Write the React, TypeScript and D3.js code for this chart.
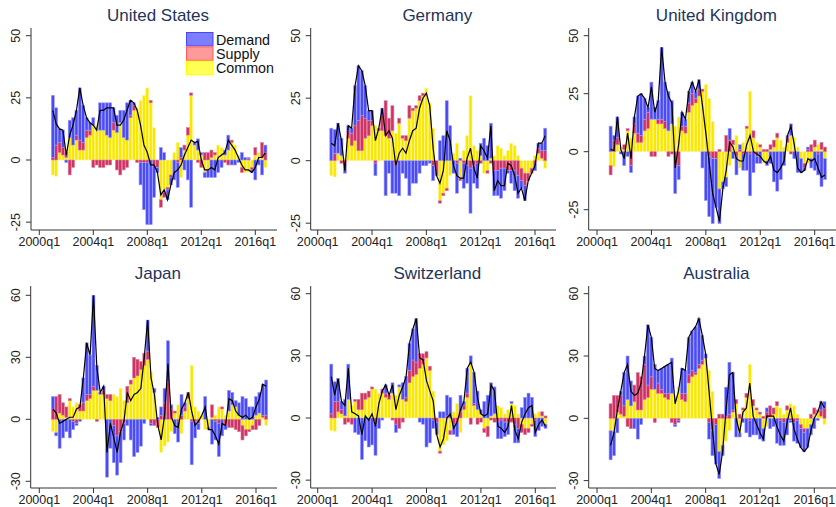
import React from "react";
import * as d3 from "d3";

// quarters are counted from 2000q1 = 0; bars run 2001q1 .. 2016q4
const firstQuarter = 4;
const tickQuarters = [0, 16, 32, 48, 64];
const tickLabels = ["2000q1", "2004q1", "2008q1", "2012q1", "2016q1"];
const topTicks = [-25, 0, 25, 50];
const bottomTicks = [-30, 0, 30, 60];
const legendLabels = ["Demand", "Supply", "Common"];

const common = [
  -6, -6.5, 3, 2, 1, 9, 6, 8, 4, 4, 9, 10, 14, 14, 12, 12,
  10, 9, 12, 11, 15, 9, 8, 17, 20, 21, 24, 26, 29, 23, 13, 0,
  -16, -13, -11, -6, 3, 7, -7, 4, 10, 26, 6, 4, 2, -5, -4, 1,
  2, 6, 5, 2, 4, 7, 6, 2, -3, -5, -5, -3, 2, 3, 1, -3,
];

const usDemand = [
  25, 15, 5.5, 7, -1, 7, 11, 10, 21, 15, 5, 3, 3, 0, 11, 11,
  13, 14, 6, 7, 5, 11, 15, 6, 1, 0, -9, -19, -25, -26, -13, -2,
  5, 3, -4, -3, -8, -10, 4, -4, -8, -19, 1, 4.5, 1, -2, -3, -7,
  -7, -5, -3, 2, 6, -2, -2, -1, 3, 1, 0.5, -1, -8, -2, -6, 3,
];
const usSupply = [
  1, 6, 4, 3, 2, -6, -3, 2, 4, 3, 3, 2, -3, -2, -3, -3,
  -2, -2, 3, -4, -6, -4, -3, 1, 2, -1, -1, -1, -1, 1, -2, -3,
  -3, -2, -1, -1, 0, -1, 1, 2, 3, 1, 0, -1, -3, 3, 3, 3,
  1, 0, 0, -1, -2, 1, 0, 0, -2, 0, 0.5, -1, 3, 0, 6, 3,
];

const deDemand = [
  13, 9.5, 12, 7, -3, 2, 2, 16, 22, 18, 13, 4, 4, -5, 0, 3,
  -14, -5, -13, -11, -14, -5, -7, -14, -9, -9, -5, -2, -2, -1, -6, 0,
  8, 10, 24, 14, -5, -12, 1, -10, -7, -18, -7, -10, 5, 9, 6, 14,
  -10, -10, -12, -9, -1, -5, -8, -9, -3, -6, 0, 0, -3, 2, 3, 9,
];
const deSupply = [
  0, 3, 0, -1, -2, 3, 5, 6, 12, 14, 8, 6, 2, -1, 1, 6,
  14, 8, 10, -2, 2, 1, 2, 5, 1, 1, 2, 1, 0, 0, -2, -6,
  -1, -1, -1, 0, 0, -1, -1, -1, -2, -3, -2, -1, -1, 0, -1, -1,
  -4, -4, -3, -3, -4, -4, -4, -6, -5, -5, -3, -2, -1, 2, 3, 4,
];

const ukDemand = [
  11, 2, 9, -1, -6, -2, -3, 3, 16, 18, 9, 2, 16, 5, 8, 31,
  17, 17, 10, -12, -6, 6, 3, 5, 5, 3, 4, -7, -21, -26, -28, -21,
  -15, -3, -4, 5, -3, -8, 2, -7, -8, -18, -9, -3, -5, 0, -2, -5,
  -13, -17, -12, -6, 1, 5, -3, -9, -6, -1, 1, -4, -8, -9, -15, -9,
];
const ukSupply = [
  -4, 5, 3, 0, 2, 1, -6, 4, 4, 3, 5, 7, -2, -2, 2, 2,
  3, -2, -1, -6, -6, 2, 3, 4, 5, 2, 3, 1, 0, -2, -3, -3,
  1, 0, 7, 5, 2, -2, 1, -1, 1, -1, 3, -2, 1, 1, 1, 2,
  3, 2, 0, 0, 2, -1, 0, 0, 0, -2, 1, 3, 3, -1, 3, 2,
];

const jpDemand = [
  6, -1.5, -14, -9, -6, -9, -4, -1, -1, 12, 25, 19, 44, 12, 1, 2,
  -28, -14, -18, -19, -15, -8, -3, -10, -18, -16, -13, -2, 15, -1, 2, 1,
  4, 7, 20, 2, -7, -10, 10, 2, 1, -21, -8, -3, 0, 11, 0, -12,
  -9, -16, -8, -2, 10, 6, 3, 6, 11, 10, 6, 6, 9, 10, 15, 17,
];
const jpSupply = [
  5, 11, 9, 6, 5, 1, -1, -2, 3, 4, 3, 2, 2, -1, 0, 2,
  2, 3, -3, -8, -6, -2, 8, 2, 10, 8, 4, 6, 4, -2, -3, -4,
  2, 8, 18, 5, 1, -1, 2, 2, 2, -1, -1, -2, 0, 0, -1, 6,
  -1, -2, 1, -3, -4, -4, -5, -6, -7, -3, -1, -2, -5, -3, 1, 2,
];

const chDemand = [
  24, 9.5, 11, 4, 8, 17, 0, -7, -8, -20, -11, -14, -13, -15, -5, -1,
  4, 0, 5, -4, 1, 8, 10, 13, 15, 21, -2, -3, -14, -12, -4, -6,
  3, 3, 10, 10, -5, -7, 8, 2, 12, 4, 15, 9, 2, 8, 11, 16,
  13, -8, -9, -7, -6, 1, -9, -7, 5, 10, 12, 10, -8, -6, -4, -2,
];
const chSupply = [
  2, 8, 5, 2, -3, -2, -3, 1, 5, 8, 3, 3, 1, -3, 0, 2,
  2, 2, -1, -3, -5, -2, 2, 6, 8, 6, 7, 5, 3, 2, -1, -2,
  -1, 0, 1, -2, -3, -2, 3, 2, 2, -3, 1, -3, -2, -2, -5, -1,
  -2, -2, -1, -2, -2, -2, -3, -5, -4, -3, -2, -1, -1, 0, 2, 1,
];

const auDemand = [
  -14, -11.5, -7, 2, 16, 21, 12, -5, -10, -3, 4, 29, 19, 12, 6, 10,
  13, 14, 17, -1, -1, 12, 11, 18, 19, 22, 22, 12, 2, -8, -12, -19,
  -13, -5, 14, 25, 18, -9, -2, -2, -7, -8, -8, -8, -10, -6, 2, -5,
  -4, -12, -12, -11, -8, -1, -9, -11, -9, -9, -9, -5, -5, -1, 4, 3,
];
const auSupply = [
  7, 11, 8, 9, 5, -4, -5, 8, 18, 16, 17, 6, 6, -2, 5, 2,
  2, 3, -2, -3, -1, 3, 4, 4, 3, 1, 2, 2, 0, -2, -6, -3,
  2, 2, 1, 2, 1, 2, 2, 1, 2, -1, 3, 1, 1, 1, 3, 5,
  3, 2, -1, -2, 2, -1, -2, -1, -2, -2, 0, 2, 3, 1, 3, 5,
];

// layout of the six panels (pixel positions of axes)
const panels = [
  { title: "United States", demand: usDemand, supply: usSupply, ticks: topTicks, left: 31, q0: 39.3, q64: 255.3, right: 277, zero: 160, topVal: 50, topPx: 35.7, axTop: 28, axBottom: 230, legend: true },
  { title: "Germany", demand: deDemand, supply: deSupply, ticks: topTicks, left: 310.7, q0: 317.7, q64: 535, right: 556, zero: 160.7, topVal: 50, topPx: 35.7, axTop: 28, axBottom: 230 },
  { title: "United Kingdom", demand: ukDemand, supply: ukSupply, ticks: topTicks, left: 588.7, q0: 597, q64: 814.7, right: 836, zero: 151.7, topVal: 50, topPx: 35.7, axTop: 28, axBottom: 230 },
  { title: "Japan", demand: jpDemand, supply: jpSupply, ticks: bottomTicks, left: 30.7, q0: 39.3, q64: 256, right: 277, zero: 419.3, topVal: 60, topPx: 295.3, axTop: 286, axBottom: 488 },
  { title: "Switzerland", demand: chDemand, supply: chSupply, ticks: bottomTicks, left: 310.7, q0: 317.7, q64: 535.3, right: 556, zero: 418, topVal: 60, topPx: 293.7, axTop: 286, axBottom: 488 },
  { title: "Australia", demand: auDemand, supply: auSupply, ticks: bottomTicks, left: 588.7, q0: 597, q64: 814.3, right: 836, zero: 418.3, topVal: 60, topPx: 293.7, axTop: 286, axBottom: 488 },
];

const fills = { demand: "#4b4bf2", supply: "#cc3366", common: "#f8e700" };
const edges = { demand: "#9c9cff", supply: "#e4809c", common: "#fff59a" };
const legendFill = ["#7d7dff", "#ff9a9a", "#ffff55"];
const legendEdge = ["#4646ff", "#ff5c5c", "#ffff00"];
const font = "'Liberation Sans', Arial, Helvetica, sans-serif";

function Panel({ p }) {
  const x = d3.scaleLinear().domain([0, 64]).range([p.q0, p.q64]);
  const y = d3.scaleLinear().domain([0, p.topVal]).range([p.zero, p.topPx]);
  const step = x(1) - x(0);

  const rows = common.map((c, i) => ({
    q: firstQuarter + i,
    common: c,
    supply: p.supply[i],
    demand: p.demand[i],
  }));
  const stack = d3
    .stack()
    .keys(["common", "supply", "demand"])
    .offset(d3.stackOffsetDiverging)(rows);

  const line = d3
    .line()
    .x((d) => x(d.q))
    .y((d) => y(d.common + d.supply + d.demand))
    .curve(d3.curveLinear);

  const midX = (p.left + p.right) / 2 + 4;

  return (
    <g>
      <text x={midX} y={p.axTop - 7} textAnchor="middle" fontSize={17} fill="#23345a" fontFamily={font}>
        {p.title}
      </text>

      {/* bars */}
      {stack.map((layer) => (
        <g key={layer.key}>
          {layer.map((s, i) => {
            const y0 = y(s[0]);
            const y1 = y(s[1]);
            const h = Math.abs(y0 - y1);
            if (h < 0.01) return null;
            return (
              <rect
                key={i}
                x={x(rows[i].q) - step / 2 + 0.2}
                y={Math.min(y0, y1)}
                width={step - 0.4}
                height={h}
                fill={fills[layer.key]}
                stroke={edges[layer.key]}
                strokeWidth={0.6}
              />
            );
          })}
        </g>
      ))}

      <path d={line(rows)} fill="none" stroke="#000" strokeWidth={1.2} />

      {/* y axis */}
      <line x1={p.left} x2={p.left} y1={p.axTop} y2={p.axBottom} stroke="#333" strokeWidth={1} />
      {p.ticks.map((t) => (
        <g key={t}>
          <line x1={p.left - 5} x2={p.left} y1={y(t)} y2={y(t)} stroke="#333" strokeWidth={1} />
          <text
            transform={`translate(${p.left - 11},${y(t)}) rotate(-90)`}
            textAnchor="middle"
            fontSize={12.5}
            fill="#222"
            fontFamily={font}
          >
            {t}
          </text>
        </g>
      ))}

      {/* x axis */}
      <line x1={p.left} x2={p.right} y1={p.axBottom} y2={p.axBottom} stroke="#333" strokeWidth={1} />
      {tickQuarters.map((q, k) => (
        <g key={q}>
          <line x1={x(q)} x2={x(q)} y1={p.axBottom} y2={p.axBottom + 5} stroke="#333" strokeWidth={1} />
          <text x={x(q)} y={p.axBottom + 16} textAnchor="middle" fontSize={12.5} fill="#222" fontFamily={font}>
            {tickLabels[k]}
          </text>
        </g>
      ))}

      {p.legend &&
        legendLabels.map((lab, k) => (
          <g key={lab}>
            <rect
              x={186.5}
              y={32.5 + k * 14.4}
              width={26.5}
              height={13.4}
              fill={legendFill[k]}
              stroke={legendEdge[k]}
              strokeWidth={1}
            />
            <text x={216} y={44.5 + k * 14.4} fontSize={14.3} fill="#111" fontFamily={font}>
              {lab}
            </text>
          </g>
        ))}
    </g>
  );
}

export default function App() {
  return (
    <svg
      width={836}
      height={507}
      style={{ position: "absolute", left: 0, top: 0, background: "#fff" }}
    >
      <rect width={836} height={507} fill="#fff" />
      {panels.map((p) => (
        <Panel key={p.title} p={p} />
      ))}
    </svg>
  );
}
